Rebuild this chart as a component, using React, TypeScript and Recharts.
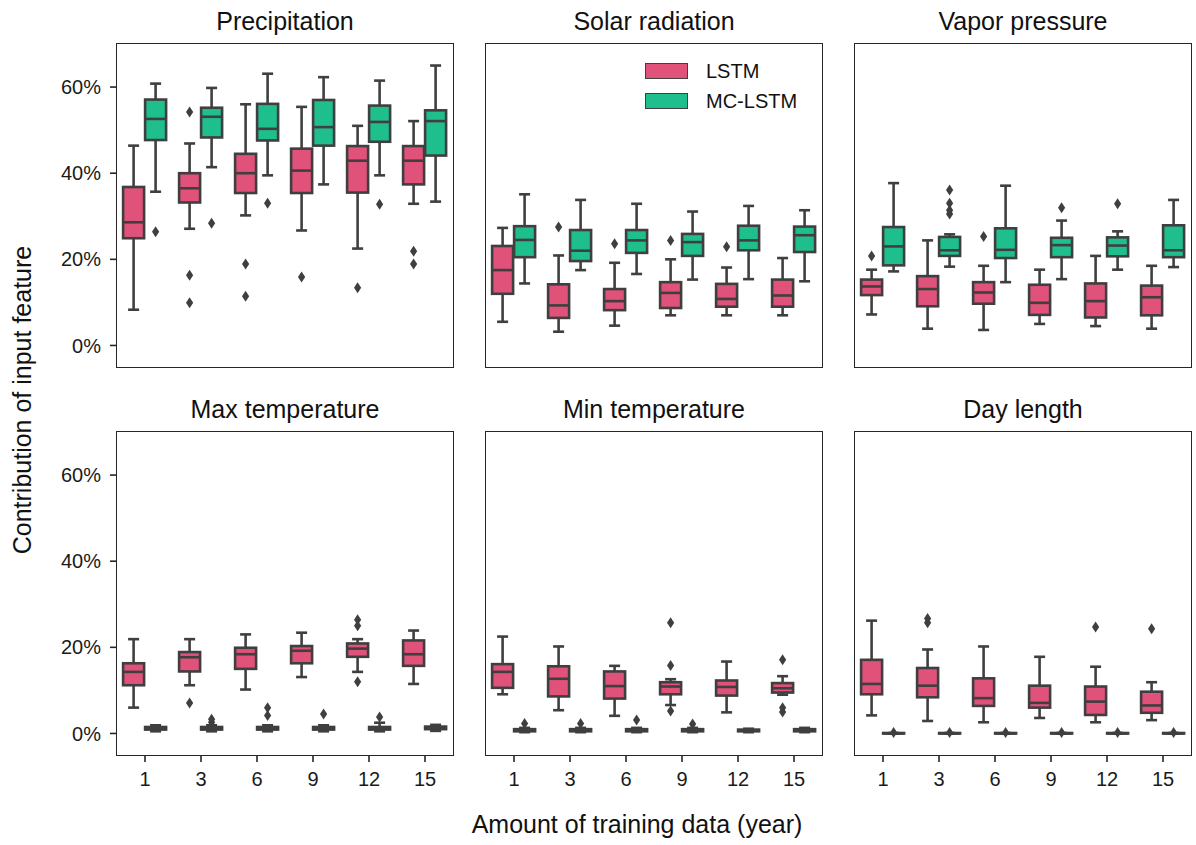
import React from 'react';
import { ComposedChart, Bar, XAxis, YAxis } from 'recharts';

const YEARS = ['1', '3', '6', '9', '12', '15'];

const SERIES = [
  { key: 'lstm', name: 'LSTM', color: '#e0527a' },
  { key: 'mc', name: 'MC-LSTM', color: '#1fbf8d' },
];

const Y_TICKS = [0, 20, 40, 60];

// each box: [lower whisker, q1, median, q3, upper whisker] in %
const PRECIP_LSTM = [
  [8.3, 24.9, 28.6, 36.8, 46.4],
  [27.1, 33.2, 36.5, 40.0, 46.9],
  [30.2, 35.4, 40.0, 44.5, 56.0],
  [26.7, 35.4, 40.6, 45.7, 55.4],
  [22.5, 35.5, 42.9, 46.3, 51.0],
  [32.9, 37.4, 42.9, 46.3, 52.1],
];
const PRECIP_LSTM_OUT = [[], [54.2, 16.3, 9.9], [18.9, 11.4], [15.9], [13.4], [21.9, 18.9]];
const PRECIP_MC = [
  [35.7, 47.7, 52.6, 57.1, 60.8],
  [41.4, 48.3, 53.1, 55.2, 59.8],
  [39.5, 47.6, 50.3, 56.1, 63.1],
  [37.4, 46.4, 50.7, 57.0, 62.3],
  [39.5, 47.3, 51.9, 55.7, 61.5],
  [33.4, 44.1, 52.1, 54.6, 65.0],
];
const PRECIP_MC_OUT = [[26.4], [28.4], [33.0], [], [32.8], []];

const SOLAR_LSTM = [
  [5.5, 12.0, 17.5, 23.1, 27.3],
  [3.2, 6.4, 9.3, 14.2, 20.9],
  [4.6, 8.2, 10.3, 13.1, 19.2],
  [7.0, 8.7, 12.2, 14.7, 20.0],
  [7.0, 9.0, 10.8, 14.3, 18.1],
  [7.0, 9.0, 11.6, 15.3, 20.3],
];
const SOLAR_LSTM_OUT = [[], [27.5], [23.6], [24.4], [22.9], []];
const SOLAR_MC = [
  [14.4, 20.5, 24.5, 27.7, 35.1],
  [17.5, 19.6, 22.0, 26.8, 33.8],
  [16.6, 21.5, 24.4, 26.8, 32.9],
  [15.3, 20.8, 24.0, 25.9, 31.1],
  [15.4, 22.1, 24.4, 27.8, 32.4],
  [14.9, 21.7, 25.6, 27.6, 31.4],
];
const SOLAR_MC_OUT = [[], [], [], [], [], []];

const VAPOR_LSTM = [
  [7.2, 11.7, 13.7, 15.3, 17.6],
  [3.9, 9.1, 13.1, 16.1, 24.4],
  [3.6, 9.7, 12.3, 14.7, 18.5],
  [5.0, 7.1, 9.9, 14.1, 17.6],
  [4.5, 6.5, 10.3, 14.4, 20.8],
  [3.9, 7.0, 11.2, 13.9, 18.5],
];
const VAPOR_LSTM_OUT = [[20.8], [], [25.3], [], [], []];
const VAPOR_MC = [
  [17.2, 18.6, 23.0, 27.5, 37.7],
  [18.3, 20.8, 22.1, 25.2, 25.8],
  [14.7, 20.3, 22.2, 27.2, 37.1],
  [15.4, 20.5, 23.3, 25.0, 29.0],
  [17.6, 20.7, 23.2, 25.1, 26.5],
  [18.2, 20.5, 22.1, 27.9, 33.8],
];
const VAPOR_MC_OUT = [[], [36.1, 33.0, 31.4, 30.5], [], [32.0], [32.9], []];

const TMAX_LSTM = [
  [6.0, 11.2, 14.3, 16.3, 21.9],
  [11.2, 14.4, 17.7, 18.9, 21.9],
  [10.2, 15.0, 18.4, 19.9, 23.0],
  [13.1, 16.3, 19.2, 20.3, 23.4],
  [14.3, 17.8, 19.7, 20.9, 21.9],
  [11.5, 15.7, 18.4, 21.6, 23.9],
];
const TMAX_LSTM_OUT = [[], [7.1], [], [], [26.4, 25.0, 12.0], []];
const TMAX_MC = [
  [0.5, 0.9, 1.2, 1.5, 1.9],
  [0.5, 0.9, 1.2, 1.5, 1.9],
  [0.5, 0.9, 1.2, 1.5, 1.9],
  [0.5, 0.9, 1.2, 1.5, 1.9],
  [0.5, 0.9, 1.2, 1.5, 2.5],
  [0.6, 1.0, 1.3, 1.6, 2.0],
];
const TMAX_MC_OUT = [[], [2.6, 3.3], [6.0, 4.2], [4.5], [3.8], []];

const TMIN_LSTM = [
  [9.1, 10.6, 14.3, 16.1, 22.5],
  [5.4, 8.6, 12.7, 15.6, 20.2],
  [4.1, 8.1, 11.0, 14.4, 15.7],
  [6.6, 9.1, 10.9, 11.9, 12.6],
  [4.9, 8.8, 10.8, 12.3, 16.7],
  [9.0, 9.5, 10.5, 11.7, 13.3],
];
const TMIN_LSTM_OUT = [[], [], [], [25.7, 15.8, 5.2], [], [17.1, 6.0, 5.0]];
const TMIN_MC = [
  [0.3, 0.5, 0.8, 1.0, 1.3],
  [0.3, 0.5, 0.8, 1.0, 1.3],
  [0.3, 0.5, 0.8, 1.0, 1.3],
  [0.3, 0.5, 0.8, 1.0, 1.3],
  [0.3, 0.5, 0.7, 0.9, 1.1],
  [0.3, 0.5, 0.8, 1.0, 1.3],
];
const TMIN_MC_OUT = [[2.3], [2.3], [3.1], [2.2], [], []];

const DAYLEN_LSTM = [
  [4.2, 9.1, 11.5, 17.1, 26.2],
  [2.9, 8.4, 11.1, 15.2, 19.5],
  [2.6, 6.4, 8.2, 12.8, 20.2],
  [3.6, 6.0, 7.1, 11.1, 17.8],
  [2.6, 4.3, 7.4, 10.9, 15.5],
  [3.1, 4.8, 6.5, 9.7, 11.9],
];
const DAYLEN_LSTM_OUT = [[], [26.7, 25.7], [], [], [24.7], [24.3]];
const DAYLEN_MC = [
  [0, 0, 0.05, 0.1, 0.1],
  [0, 0, 0.05, 0.1, 0.1],
  [0, 0, 0.05, 0.1, 0.1],
  [0, 0, 0.05, 0.1, 0.1],
  [0, 0, 0.05, 0.1, 0.1],
  [0, 0, 0.05, 0.1, 0.1],
];
const DAYLEN_MC_OUT = [[0.2], [0.2], [0.2], [0.2], [0.2], [0.2]];

const LINE = '#3f3f3f';
const SPINE = '#262626';
const FONT = 'Arial, "Liberation Sans", sans-serif';

const buildRows = (lstm, lstmOut, mc, mcOut) =>
  YEARS.map((year, i) => {
    const a = [...lstm[i], ...lstmOut[i]];
    const b = [...mc[i], ...mcOut[i]];
    return {
      year,
      lstm: [Math.min(...a), Math.max(...a)],
      mc: [Math.min(...b), Math.max(...b)],
      lstmBox: lstm[i],
      lstmOut: lstmOut[i],
      mcBox: mc[i],
      mcOut: mcOut[i],
    };
  });

const PANELS = [
  { title: 'Precipitation', rows: buildRows(PRECIP_LSTM, PRECIP_LSTM_OUT, PRECIP_MC, PRECIP_MC_OUT) },
  { title: 'Solar radiation', rows: buildRows(SOLAR_LSTM, SOLAR_LSTM_OUT, SOLAR_MC, SOLAR_MC_OUT) },
  { title: 'Vapor pressure', rows: buildRows(VAPOR_LSTM, VAPOR_LSTM_OUT, VAPOR_MC, VAPOR_MC_OUT) },
  { title: 'Max temperature', rows: buildRows(TMAX_LSTM, TMAX_LSTM_OUT, TMAX_MC, TMAX_MC_OUT) },
  { title: 'Min temperature', rows: buildRows(TMIN_LSTM, TMIN_LSTM_OUT, TMIN_MC, TMIN_MC_OUT) },
  { title: 'Day length', rows: buildRows(DAYLEN_LSTM, DAYLEN_LSTM_OUT, DAYLEN_MC, DAYLEN_MC_OUT) },
];

const COL_LEFT = [117, 486, 855];
const ROW_TOP = [44, 432];
const PLOT_W = 336;
const PLOT_H = 323;
const YAXIS_W = 80;
const XAXIS_H = 44;

// draws the whole box (box, whiskers, median, fliers) inside the range bar
const boxShape = (key) => (props) => {
  const { x, y, width, height, payload, fill } = props;
  const [lo, hi] = payload[key];
  if (!(hi > lo)) return null;
  const top = Math.min(y, y + height);
  const h = Math.abs(height);
  const py = (v) => top + (h * (hi - v)) / (hi - lo);
  const [wl, q1, med, q3, wh] = payload[key + 'Box'];
  const outs = payload[key + 'Out'];
  const cx = x + width / 2;
  const cap = width / 4;
  return (
    <g>
      <line x1={cx} x2={cx} y1={py(q3)} y2={py(wh)} stroke={LINE} strokeWidth={2.6} />
      <line x1={cx} x2={cx} y1={py(q1)} y2={py(wl)} stroke={LINE} strokeWidth={2.6} />
      <line x1={cx - cap} x2={cx + cap} y1={py(wh)} y2={py(wh)} stroke={LINE} strokeWidth={2.6} />
      <line x1={cx - cap} x2={cx + cap} y1={py(wl)} y2={py(wl)} stroke={LINE} strokeWidth={2.6} />
      <rect
        x={x + 0.5}
        y={py(q3)}
        width={width - 1}
        height={Math.max(py(q1) - py(q3), 0.5)}
        fill={fill}
        stroke={LINE}
        strokeWidth={2.6}
      />
      <line x1={x + 0.5} x2={x + width - 0.5} y1={py(med)} y2={py(med)} stroke={LINE} strokeWidth={2.6} />
      {outs.map((v, i) => {
        const oy = py(v);
        return (
          <path
            key={i}
            d={`M${cx},${oy - 5.5}L${cx + 3.6},${oy}L${cx},${oy + 5.5}L${cx - 3.6},${oy}Z`}
            fill={LINE}
          />
        );
      })}
    </g>
  );
};

const Panel = ({ panel, col, row }) => {
  const left = COL_LEFT[col];
  const top = ROW_TOP[row];
  const showYLabels = col === 0;
  const showXLabels = row === 1;
  return (
    <>
      <div
        style={{
          position: 'absolute',
          left,
          top: top - 38,
          width: PLOT_W,
          height: 30,
          lineHeight: '30px',
          textAlign: 'center',
          fontSize: 25,
          color: '#111',
        }}
      >
        {panel.title}
      </div>
      <div style={{ position: 'absolute', left: left - YAXIS_W, top: top - 2 }}>
        <ComposedChart
          width={YAXIS_W + PLOT_W + 2}
          height={2 + PLOT_H + XAXIS_H}
          data={panel.rows}
          margin={{ top: 2, right: 2, left: 0, bottom: 0 }}
          barCategoryGap="10%"
          barGap={0}
        >
          <XAxis
            dataKey="year"
            height={XAXIS_H}
            axisLine={false}
            tickSize={7}
            tickMargin={10}
            tickLine={{ stroke: SPINE, strokeWidth: 1.6 }}
            tick={showXLabels ? { fill: '#1a1a1a', fontSize: 20 } : false}
          />
          <YAxis
            width={YAXIS_W}
            domain={[-5, 70]}
            ticks={Y_TICKS}
            allowDataOverflow
            axisLine={false}
            tickSize={7}
            tickMargin={9}
            tickLine={{ stroke: SPINE, strokeWidth: 1.6 }}
            tick={showYLabels ? { fill: '#1a1a1a', fontSize: 20 } : false}
            tickFormatter={(v) => `${v}%`}
          />
          {SERIES.map((s) => (
            <Bar
              key={s.key}
              dataKey={s.key}
              name={s.name}
              fill={s.color}
              shape={boxShape(s.key)}
              isAnimationActive={false}
            />
          ))}
        </ComposedChart>
      </div>
      <div
        style={{
          position: 'absolute',
          left: left - 0.8,
          top: top - 0.8,
          width: PLOT_W + 1.6,
          height: PLOT_H + 1.6,
          border: `1.6px solid ${SPINE}`,
          boxSizing: 'border-box',
          pointerEvents: 'none',
        }}
      />
    </>
  );
};

const Legend = () => (
  <div style={{ position: 'absolute', left: 645, top: 63 }}>
    {SERIES.map((s, i) => (
      <div key={s.key} style={{ position: 'absolute', left: 0, top: i * 30, whiteSpace: 'nowrap' }}>
        <div
          style={{
            position: 'absolute',
            left: 0,
            top: 0,
            width: 43,
            height: 16,
            background: s.color,
            border: `1.3px solid ${LINE}`,
            boxSizing: 'border-box',
          }}
        />
        <div style={{ position: 'absolute', left: 61, top: -5, fontSize: 20, lineHeight: '26px', color: '#111' }}>
          {s.name}
        </div>
      </div>
    ))}
  </div>
);

export default function App() {
  return (
    <div
      style={{
        position: 'absolute',
        left: 0,
        top: 0,
        width: 1196,
        height: 845,
        background: '#fff',
        fontFamily: FONT,
        overflow: 'hidden',
      }}
    >
      {PANELS.map((p, i) => (
        <Panel key={p.title} panel={p} col={i % 3} row={Math.floor(i / 3)} />
      ))}
      <Legend />
      <div
        style={{
          position: 'absolute',
          left: 22 - 250,
          top: 400 - 16,
          width: 500,
          height: 32,
          lineHeight: '32px',
          textAlign: 'center',
          fontSize: 25,
          color: '#111',
          transform: 'rotate(-90deg)',
        }}
      >
        Contribution of input feature
      </div>
      <div
        style={{
          position: 'absolute',
          left: 637 - 300,
          top: 809,
          width: 600,
          height: 30,
          lineHeight: '30px',
          textAlign: 'center',
          fontSize: 25,
          color: '#111',
        }}
      >
        Amount of training data (year)
      </div>
    </div>
  );
}
